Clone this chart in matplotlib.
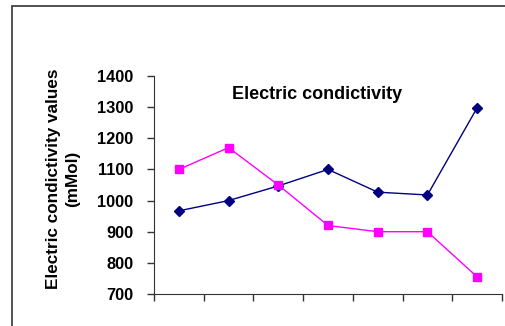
import matplotlib
matplotlib.use("Agg")
import matplotlib.pyplot as plt
from matplotlib.patches import Rectangle

plt.rcParams["font.family"] = ["Liberation Sans", "DejaVu Sans"]

# ── Dữ liệu ────────────────────────────────────────────────
categories = [1, 2, 3, 4, 5, 6, 7]
series_blue = [967, 1000, 1047, 1100, 1027, 1018, 1298]
series_pink = [1100, 1170, 1050, 920, 900, 900, 755]
y_ticks = [700, 800, 900, 1000, 1100, 1200, 1300, 1400]

fig = plt.figure(figsize=(5.05, 3.26), dpi=100)
ax = fig.add_axes([154 / 505, 1 - 294 / 326, 348 / 505, 218 / 326])

x = [c - 0.5 for c in categories]
ax.plot(x, series_blue, color="#000080", lw=1, marker="D", ms=5.5,
        mfc="#000080", mec="#000080")
ax.plot(x, series_pink, color="#FF00FF", lw=1, marker="s", ms=5.5,
        mfc="#FF00FF", mec="#FF00FF")

ax.set_xlim(0, 7)
ax.set_ylim(700, 1400)
ax.set_yticks(y_ticks)
ax.set_yticklabels([str(v) for v in y_ticks], fontsize=11.8, fontweight="bold")
ax.set_xticks(range(0, 8))
ax.set_xticklabels([])
ax.tick_params(axis="both", direction="out", length=5, width=1, color="#333333")
ax.tick_params(axis="y", pad=10)
for s in ["top", "right"]:
    ax.spines[s].set_visible(False)
for s in ["left", "bottom"]:
    ax.spines[s].set_color("#333333")

ax.text(0.468, 0.913, "Electric condictivity", transform=ax.transAxes,
        ha="center", va="center", fontsize=13, fontweight="bold")

fig.text(63 / 505, 1 - 179 / 326, "Electric condictivity values\n(mMol)",
         rotation=90, ha="center", va="center", fontsize=12.3,
         fontweight="bold", linespacing=1.3)

# khung viền ngoài
fig.patches.append(Rectangle((12 / 505, -0.1), 1.2, 1 - 6 / 326 + 0.1,
                             transform=fig.transFigure, fill=False,
                             edgecolor="#333333", lw=1.2))

plt.savefig("out.png", dpi=100)
plt.close()
